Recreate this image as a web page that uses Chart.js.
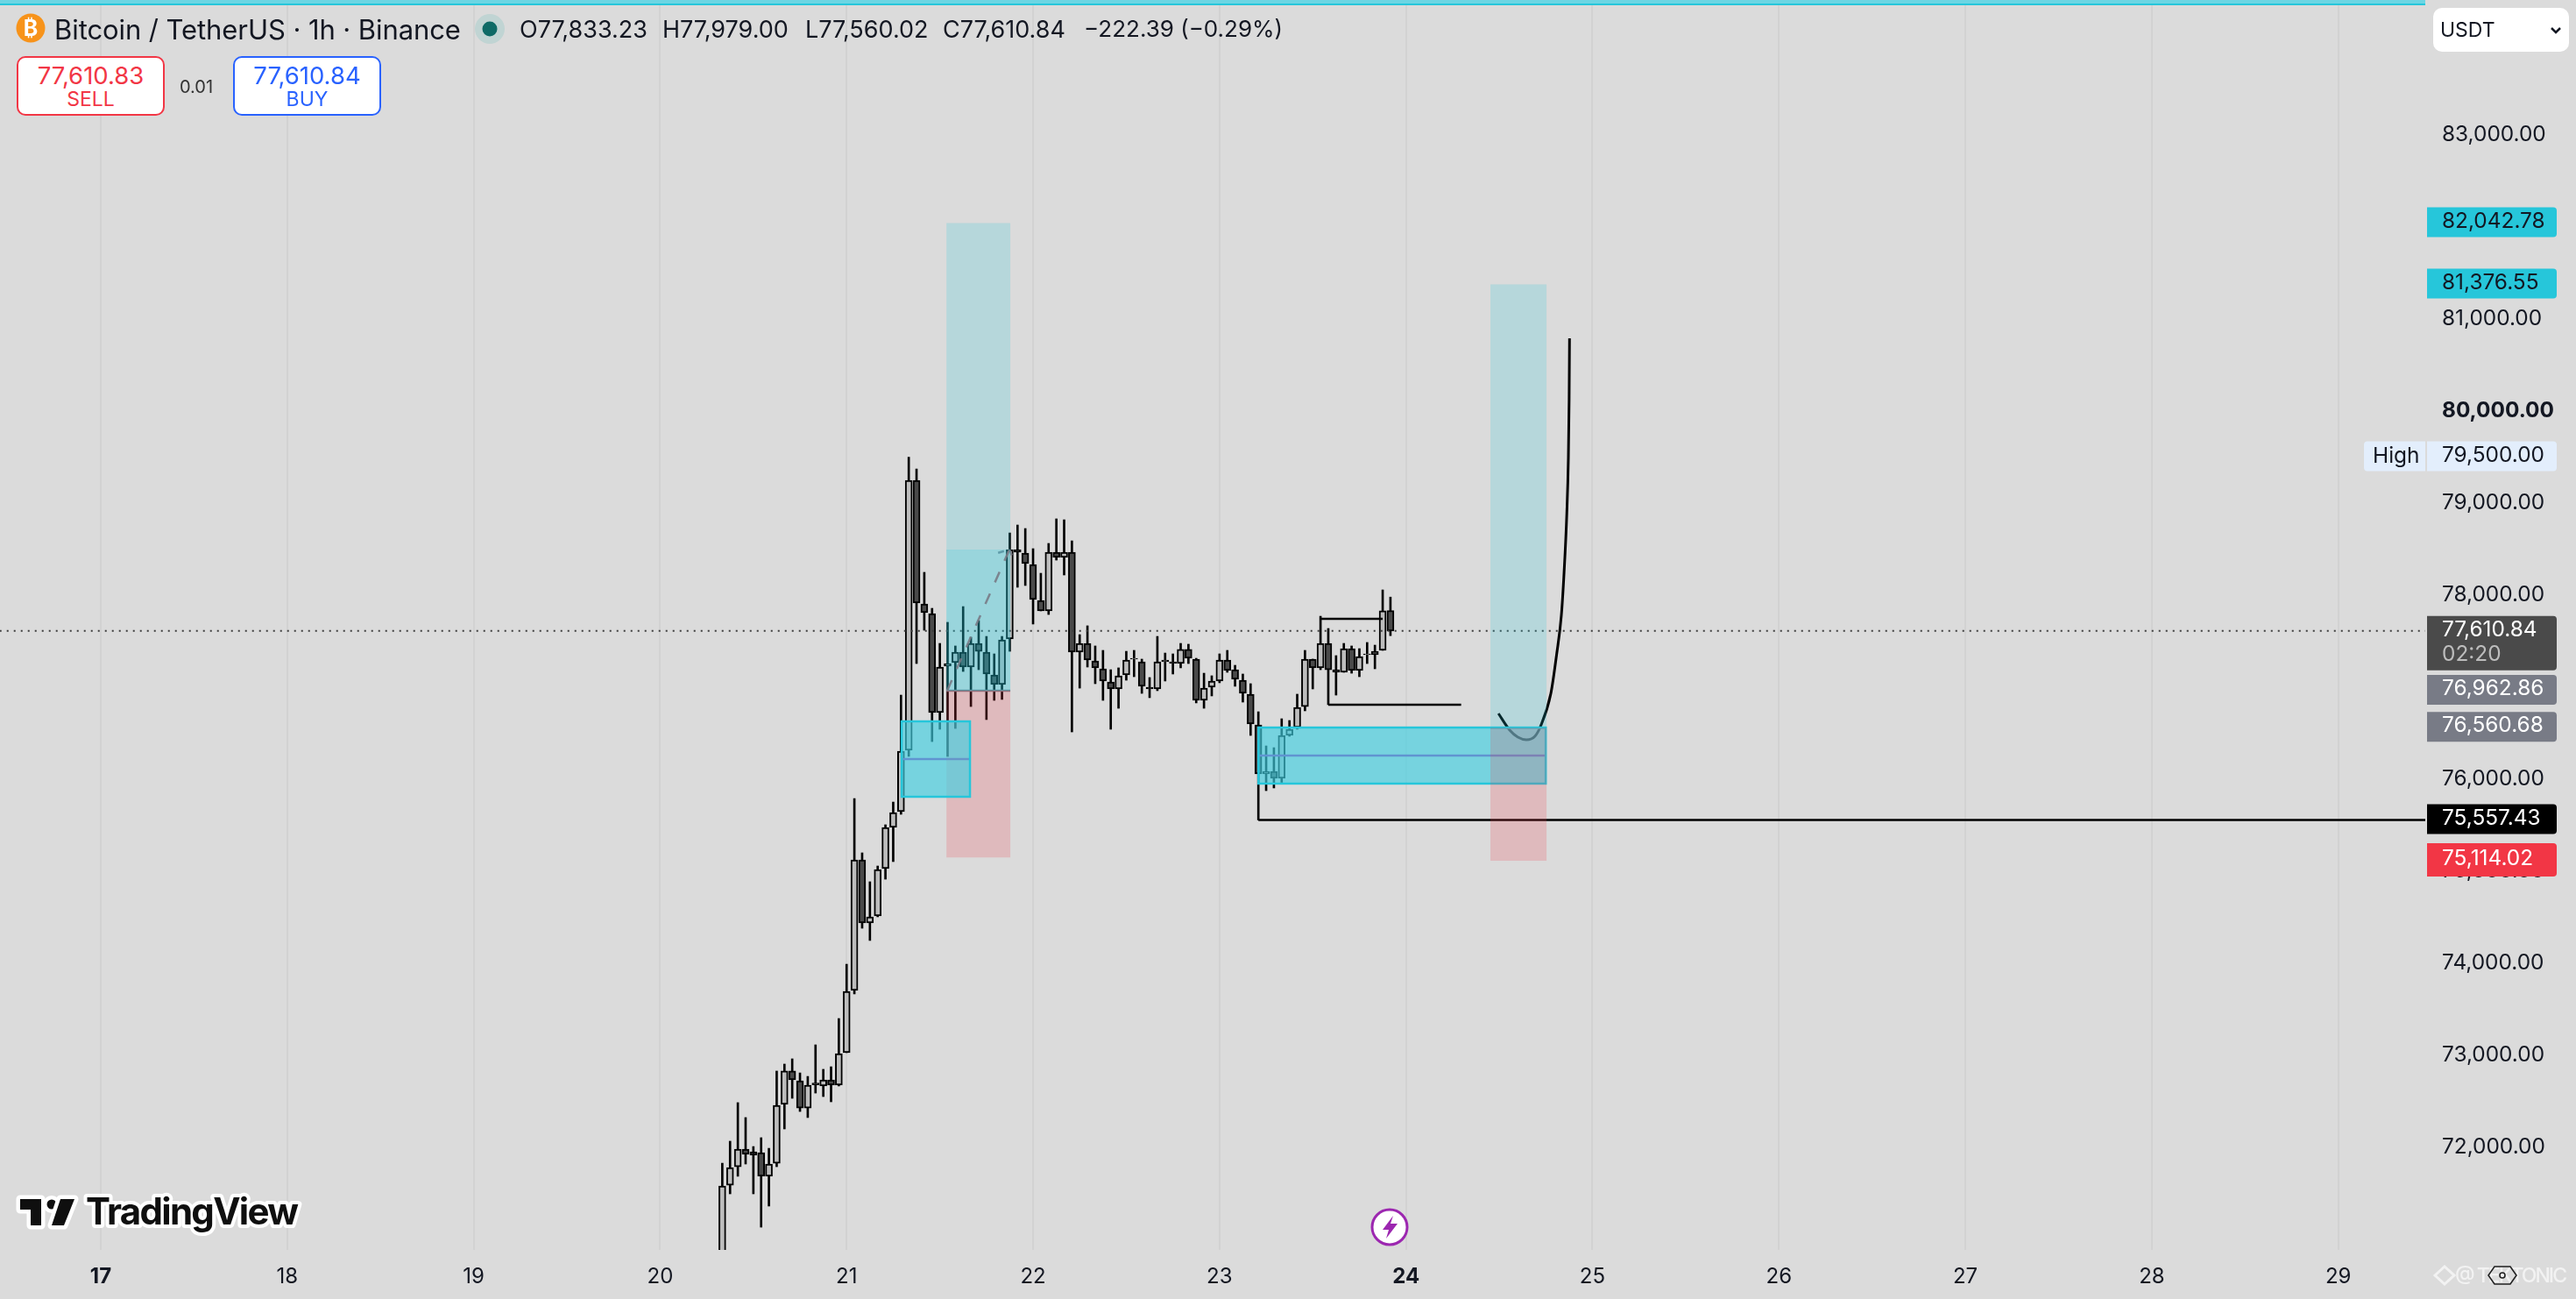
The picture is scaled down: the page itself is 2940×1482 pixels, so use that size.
<!DOCTYPE html>
<html><head><meta charset="utf-8">
<style>
html,body{margin:0;padding:0;background:#dbdbdb;width:2940px;height:1482px;overflow:hidden;font-family:Inter,Roboto,sans-serif;color:#131722}
#wrap{position:relative;width:2940px;height:1482px}
canvas{position:absolute;left:0;top:0}
.t{position:absolute;white-space:nowrap;line-height:1}
.btn{position:absolute;background:#fff;border-radius:10px;box-sizing:border-box;border:2.5px solid;text-align:center}
svg{position:absolute;overflow:visible}
</style></head><body><div id="wrap">
<canvas id="c" width="2940" height="1482" style="width:2940px;height:1482px"></canvas>

<svg style="left:0;top:0" width="2940" height="1482">
  <circle cx="35" cy="32" r="16.5" fill="#f7931a"/>
  <text x="35" y="41" font-family="Inter" font-size="25" font-weight="700" fill="#fff" text-anchor="middle">₿</text>
  <circle cx="559" cy="33" r="17" fill="#c0d4d3"/><circle cx="559" cy="33" r="8.5" fill="#0e6a66"/>
  <g stroke="#fff" stroke-width="9" stroke-linejoin="round" paint-order="stroke" fill="#0f0f0f">
    <polygon points="23,1368 47,1368 47,1398 35,1398 35,1380 23,1380"/>
    <circle cx="59" cy="1374" r="5.5"/>
    <polygon points="69,1368 85,1368 73,1398 59,1398"/>
    <text x="98" y="1397" font-family="Inter" font-size="42" font-weight="700" letter-spacing="-1.7" stroke-width="8">TradingView</text>
  </g>
  <circle cx="1586" cy="1400" r="20" fill="#fff" stroke="#9c27b0" stroke-width="3"/>
  <polygon points="1590,1387 1578,1403 1585,1403 1582,1413 1595,1396 1587,1396" fill="#9c27b0"/>
  <rect x="2777" y="9" width="155" height="50" rx="10" fill="#fff"/>
  <polyline points="2912,32 2917,37 2922,32" fill="none" stroke="#131722" stroke-width="2.5"/>
  <g fill="none" stroke="#f4f4f4" stroke-width="3" opacity=".9"><polygon points="2779,1455 2790,1445 2801,1455 2790,1465"/></g>
  <text x="2802" y="1463" font-family="Inter" font-size="23" font-weight="500" fill="#f2f2f2" textLength="128">@ TEKTONIC</text>
  <polygon points="2847,1445 2865,1445 2872,1455 2865,1465 2847,1465 2840,1455" fill="none" stroke="#222" stroke-width="1.6"/>
  <circle cx="2856" cy="1455" r="3" fill="none" stroke="#222" stroke-width="1.6"/>
</svg>

<div class="t" id="ttl" style="left:62px;top:18px;font-size:31px;letter-spacing:-.08px">Bitcoin / TetherUS · 1h · Binance</div>
<div class="t ohlc" style="left:593px;top:20px;font-size:27px">O77,833.23</div>
<div class="t ohlc" style="left:756px;top:20px;font-size:27px">H77,979.00</div>
<div class="t ohlc" style="left:919px;top:20px;font-size:27px">L77,560.02</div>
<div class="t ohlc" style="left:1076px;top:20px;font-size:27px">C77,610.84</div>
<div class="t ohlc" style="left:1237px;top:20px;font-size:26px">−222.39 (−0.29%)</div>

<div class="btn" style="left:19px;top:64px;width:169px;height:68px;border-color:#f23645;color:#f23645">
  <div style="font-size:27.5px;margin-top:6px;line-height:28px">77,610.83</div>
  <div style="font-size:23px;line-height:24px;margin-top:1px">SELL</div></div>
<div class="t" style="left:205px;top:89px;font-size:20px;color:#333">0.01</div>
<div class="btn" style="left:266px;top:64px;width:169px;height:68px;border-color:#2962ff;color:#2962ff">
  <div style="font-size:27.5px;margin-top:6px;line-height:28px">77,610.84</div>
  <div style="font-size:23px;line-height:24px;margin-top:1px">BUY</div></div>

<div class="t" style="left:2785px;top:23px;font-size:23px">USDT</div>
</div>

<script src="https://cdn.jsdelivr.net/npm/chart.js@4"></script>
<script>
// hours counted from 17th 00:00; one candle per hour, first one at firstCandleHour
const firstCandleHour = 80;
const opens = [70470,71590,71790,71981,71952,71943,71686,71828,72467,72829,72724,72428,72700,72667,72733,72676,
 73029,73705,75124,74438,74514,75029,75476,75648,76314,79248,77905,77800,76724,77229,77267,77381,77219,77476,77381,77133,77029,77524,78495,78457,
 78333,77943,77829,78467,78410,78467,77381,77476,77286,77200,77057,76981,77133,77305,77276,77000,76981,77276,77276,77257,77410,77305,76857,77000,
 77067,77295,77190,77076,76924,76590,76057,76086,76010,76476,76562,76790,77305,77210,77476,77190,77162,77419,77181,77352,77352,77400,77833.23];
const highs = [71828,72067,72486,72324,72009,72105,71990,72829,72905,72962,72809,72771,73114,72848,72876,73400,
 73990,75790,75200,74886,75057,75505,75752,76914,79500,79371,78248,77857,77476,77705,77448,77876,77543,77724,77552,77362,77552,78676,78762,78724,
 78505,78238,78562,78829,78819,78590,77571,77667,77448,77400,77190,77210,77390,77400,77305,77105,77552,77371,77362,77476,77467,77314,77152,77124,
 77362,77400,77238,77143,77038,76733,76362,76343,76657,76638,76924,77400,77305,77771,77638,77343,77476,77448,77419,77486,77457,78057,77979];
const lows = [70400,71495,71686,71819,71495,71133,71362,71790,72200,72533,72390,72324,72590,72552,72495,72667,
 73029,73667,74381,74248,74505,74914,75105,75619,76248,77257,77619,76409,76543,76248,76552,77171,76790,77190,76648,76857,76867,77390,78086,78105,
 77686,77829,77790,78381,78219,76514,76990,77219,77038,76857,76543,76771,77076,77114,76933,76886,76962,77067,77143,77210,77257,76829,76771,76905,
 77048,77162,77010,76838,76476,75557.43,75876,75905,75952,76467,76543,76743,76981,77190,76810,76914,77162,77152,77114,77257,77200,77400,77560.02];
const closes = [71581,71781,71981,71924,71914,71686,71819,72457,72829,72733,72428,72676,72680,72733,72676,73019,
 73695,75124,74438,74505,75019,75476,75638,76305,79248,77914,77810,76724,77219,77257,77381,77219,77476,77390,77143,77029,77514,78495,78467,78343,
 77952,77829,78467,78410,78467,77381,77476,77295,77210,77067,76981,77124,77295,77314,77010,76981,77276,77295,77257,77410,77314,76857,76990,77067,
 77295,77181,77086,76933,76600,76057,76086,76010,76476,76543,76781,77305,77210,77476,77190,77162,77419,77181,77333,77362,77390,77829,77610.84];

const dayLabels = ['17','18','19','20','21','22','23','24','25','26','27','28','29'];
const boldDays = ['17','24'];
const priceTicks = [83000,82000,81000,80000,79000,78000,77000,76000,75000,74000,73000,72000];
const boldPrice = 80000;

const tagPrices = [82042.78,81376.55,79500,76962.86,76560.68,75557.43,75114.02];
const tagTexts  = ['82,042.78','81,376.55','79,500.00','76,962.86','76,560.68','75,557.43','75,114.02'];
const lastPrice = 77610.84, lastCountdown = '02:20', lastText = '77,610.84';

// position tools and order blocks, in hours and prices
const pos1Hours = [108.85,117.07], pos1Prices = [82042.78,76962.86,75150], pos1Reached = 78495;
const pos2Hours = [178.87,186.09], pos2Prices = [81376.55,76560.68,75114.02];
const block1Hours = [102.97,111.99], block1Prices = [76638,76219,75800];
const block2Hours = [148.9,186.1],  block2Prices = [76571,76257,75943];

const lowRayHours = [149,299.2],   lowRayPrices = [75557.43,75557.43];
const highSegHours = [157,165],    highSegPrices = [77743,77743];
const lowSegHours = [158,175.1],   lowSegPrices = [76810,76810];
const curveHours  = [179.9,181.35,182.4,183.5,184.6,185.3,186.65,187.4,188,188.35,188.7,188.9,189,189.05];
const curvePrices = [76714,76533,76457,76429,76467,76571,76933,77362,77781,78248,78886,79486,80124,80790];
const arrowHours  = [108.95,116.95], arrowPrices = [76962.86,78495];
const arrowHeadAHours = [115.5,116.95], arrowHeadAPrices = [78460,78495];
const arrowHeadBHours = [116.95,117.5], arrowHeadBPrices = [78495,78390];

const idx = opens.map((_,i)=>firstCandleHour+i);
const pts = (xs,ys)=>xs.map((x,i)=>({x,y:ys[i]}));
const line = (xs,ys,color,width,dash,extra)=>Object.assign({type:'line',data:pts(xs,ys),borderColor:color,borderWidth:width,borderDash:dash||[],pointRadius:0,fill:false,order:1,tension:0,borderCapStyle:'butt'},extra||{});

const FONT='Inter';
const zones={id:'zones',
  _rect(ch,xs,p0,p1,fill,stroke){
    const X=ch.scales.x,Y=ch.scales.y,c=ch.ctx;
    const l=X.getPixelForValue(xs[0]),r=X.getPixelForValue(xs[1]),t=Y.getPixelForValue(p0),b=Y.getPixelForValue(p1);
    c.fillStyle=fill;c.fillRect(l,t,r-l,b-t);
    if(stroke){c.strokeStyle=stroke;c.lineWidth=2.5;c.strokeRect(l+1,t+1,r-l-2,b-t-2);}
  },
  beforeDatasetDraw(ch,a){
    if(a.index!==0) return;
    const teal='rgba(34,199,218,.2)',red='rgba(242,54,69,.2)',ob='rgba(65,208,226,.65)',edge='#26c6da';
    this._rect(ch,pos1Hours,pos1Prices[0],pos1Prices[1],teal);
    this._rect(ch,pos1Hours,pos1Reached,pos1Prices[1],teal);
    this._rect(ch,pos1Hours,pos1Prices[1],pos1Prices[2],red);
    this._rect(ch,block1Hours,block1Prices[0],block1Prices[2],ob,edge);
    this._rect(ch,block2Hours,block2Prices[0],block2Prices[2],ob,edge);
    this._rect(ch,pos2Hours,pos2Prices[0],pos2Prices[1],teal);
    this._rect(ch,pos2Hours,pos2Prices[1],pos2Prices[2],red);
  },
  afterDatasetsDraw(ch){
    const c=ch.ctx,Y=ch.scales.y,R=2918,L=2770;
    c.save();
    c.fillStyle='#6dd5e3';c.fillRect(0,0,2768,4);c.fillStyle='#26c6da';c.fillRect(0,4,2768,2);
    const colors=['#26c6da','#26c6da','#e3eefc','#787b86','#787b86','#000000','#f23645'];
    const inks=['#131722','#131722','#131722','#ffffff','#ffffff','#ffffff','#ffffff'];
    const box=(y,h,col)=>{c.fillStyle=col;c.beginPath();c.roundRect(L,y,R-L,h,[0,4,4,0]);c.fill();};
    c.font='400 24.4px '+FONT;c.textBaseline='middle';c.textAlign='left';
    tagPrices.forEach((p,i)=>{
      const y=Y.getPixelForValue(p),h=i===6?38:34;
      box(y-h/2-1,h,colors[i]);
      c.fillStyle=inks[i];c.fillText(tagTexts[i],2787,y-2);
    });
    const yy=Y.getPixelForValue(lastPrice);
    box(yy-17,62,'#4a4a4a');
    c.fillStyle='#fff';c.fillText(lastText,2787,yy-1);
    c.fillStyle='#bdbdbd';c.fillText(lastCountdown,2787,yy+27);
    const yh=Y.getPixelForValue(79500);
    c.fillStyle='#e3eefc';c.beginPath();c.roundRect(2698,yh-18,70,34,[4,0,0,4]);c.fill();
    c.fillStyle='#131722';c.fillText('High',2708,yh-1);
    c.restore();
  }};

new Chart(document.getElementById('c'),{
  type:'bar',
  plugins:[zones],
  data:{datasets:[
    line(arrowHours,arrowPrices,'rgba(120,123,134,.9)',2.5,[13,14]),
    line(arrowHeadAHours,arrowHeadAPrices,'rgba(120,123,134,.9)',2.5,[7,6]),
    line(arrowHeadBHours,arrowHeadBPrices,'rgba(120,123,134,.9)',2.5,[7,6]),
    line(pos1Hours,[pos1Prices[1],pos1Prices[1]],'#787b86',2.5),
    line(pos2Hours,[pos2Prices[1],pos2Prices[1]],'#787b86',2.5),
    line(block1Hours.map((v,i)=>v+(i?-.15:.15)),[block1Prices[1],block1Prices[1]],'#9c27b0',2.5),
    line(block2Hours.map((v,i)=>v+(i?-.15:.15)),[block2Prices[1],block2Prices[1]],'#9c27b0',2.5),
    line(lowRayHours,lowRayPrices,'#000',2.5),
    line(highSegHours,highSegPrices,'#000',2.5),
    line(lowSegHours,lowSegPrices,'#000',2.5),
    line(curveHours,curvePrices,'#000',3,[],{cubicInterpolationMode:'monotone'}),
    line([-13,299.2],[lastPrice,lastPrice],'#3c3c3c',2,[2,6],{order:2}),
    {type:'bar',order:4,grouped:false,barThickness:8,borderSkipped:false,borderWidth:2,borderColor:'#000',
     backgroundColor:closes.map((v,i)=>v>=opens[i]?'#bdbdbd':'#4a4a4a'),
     data:idx.map((x,i)=>({x,y:[opens[i],closes[i]]}))},
    {type:'bar',order:5,grouped:false,barThickness:2,borderWidth:0,backgroundColor:'#000',
     data:idx.map((x,i)=>({x,y:[lows[i],highs[i]]}))}
  ]},
  options:{
    responsive:false,devicePixelRatio:1,animation:false,
    layout:{padding:0},
    plugins:{legend:{display:false},tooltip:{enabled:false}},
    scales:{
      x:{type:'linear',offset:false,min:-12.97,max:299.2,
        afterBuildTicks:a=>{a.ticks=dayLabels.map((_,i)=>({value:i*24}));},
        afterFit:a=>{a.height=56;a.paddingLeft=0;a.paddingRight=0;},
        grid:{offset:false,color:'#d2d2d2',lineWidth:2,drawTicks:false},border:{display:false},
        ticks:{autoSkip:false,maxRotation:0,padding:16,color:'#131722',
          font:c=>({family:FONT,size:24,weight:(c.tick&&boldDays.includes(dayLabels[c.tick.value/24]))?'700':'400'}),
          callback:v=>dayLabels[v/24]}},
      y:{type:'linear',position:'right',min:70885.7,max:84466.67,
        afterBuildTicks:a=>{a.ticks=priceTicks.map(v=>({value:v}));},
        afterFit:a=>{a.width=172;a.paddingTop=0;a.paddingBottom=0;},
        grid:{display:false,drawTicks:false},border:{display:false},
        ticks:{padding:19,color:'#131722',
          font:c=>({family:FONT,size:24.4,weight:(c.tick&&c.tick.value===boldPrice)?'700':'400'}),
          callback:v=>v.toLocaleString('en-US',{minimumFractionDigits:2,maximumFractionDigits:2})}}
    }
  }
});
</script>
</body></html>
